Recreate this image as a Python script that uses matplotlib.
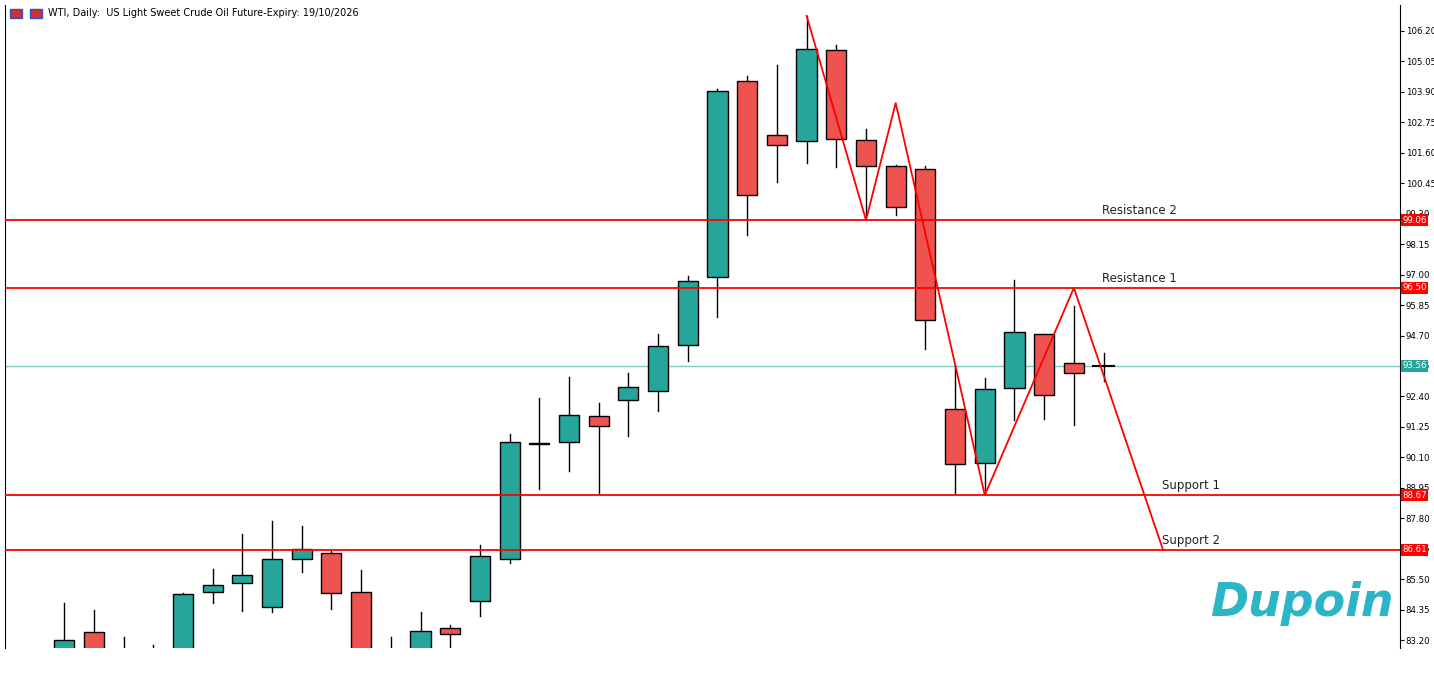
import numpy as np
import matplotlib.pyplot as plt
from matplotlib.patches import Rectangle

# ===== DONNÉES =====
opens = [82.5, 83.5, 82.5, 82.3, 82.8, 85.0, 85.35, 84.45, 86.26, 86.49, 85.0, 82.6,
         82.7, 83.66, 84.67, 86.26, 90.6, 90.68, 91.66, 92.26, 92.6, 94.34, 96.91, 104.31,
         102.27, 102.05, 105.48, 102.08, 101.1, 101.0, 91.92, 89.89, 92.72, 94.76, 93.66, 93.55]
closes = [83.2, 82.6, 82.0, 82.6, 84.95, 85.28, 85.65, 86.26, 86.64, 84.98, 82.5, 82.3,
          83.54, 83.43, 86.37, 90.68, 90.65, 91.7, 91.28, 92.76, 94.3, 96.76, 103.93, 100.0,
          101.9, 105.5, 102.12, 101.1, 99.55, 95.3, 89.85, 92.68, 94.83, 92.45, 93.28, 93.56]
highs = [84.6, 84.35, 83.3, 83.0, 84.98, 85.9, 87.2, 87.7, 87.5, 86.56, 85.85, 83.3,
         84.26, 83.77, 86.79, 90.98, 92.35, 93.13, 92.15, 93.3, 94.76, 96.95, 104.0, 104.5,
         104.9, 106.75, 105.67, 102.5, 101.14, 101.1, 93.6, 93.1, 96.8, 94.76, 95.8, 94.04]
lows = [82.0, 82.0, 81.8, 81.9, 82.5, 84.6, 84.3, 84.26, 85.77, 84.37, 82.0, 81.9,
        82.3, 82.9, 84.1, 86.1, 88.9, 89.6, 88.75, 90.9, 91.85, 93.74, 95.4, 98.5,
        100.5, 101.2, 101.06, 99.25, 99.25, 94.2, 88.75, 88.87, 91.5, 91.55, 91.32, 93.0]

niveaux = [99.06, 96.50, 88.67, 86.61]
noms_niveaux = ["Resistance 2", "Resistance 1", "Support 1", "Support 2"]
pos_noms = [34.95, 34.95, 36.97, 36.97]
prix_actuel = 93.56

zigzag_x = [25, 27, 28, 31, 34, 37]
zigzag_y = [106.77, 99.06, 103.48, 88.67, 96.50, 86.61]

ticks = [83.20, 84.35, 85.50, 86.65, 87.80, 88.95, 90.10, 91.25, 92.40, 93.55,
         94.70, 95.85, 97.00, 98.15, 99.30, 100.45, 101.60, 102.75, 103.90, 105.05, 106.20]
# ====================

VERT = "#26a69a"
ROUGE = "#ef5350"

fig = plt.figure(figsize=(14.34, 6.73), dpi=100)
ax = fig.add_axes([5 / 1434, 25 / 673, 1395 / 1434, 643 / 673])

for i, (o, c, h, l) in enumerate(zip(opens, closes, highs, lows)):
    ax.plot([i, i], [l, h], color="black", lw=1, zorder=2)
    if abs(c - o) < 0.05:
        ax.plot([i - 0.34, i + 0.34], [o, o], color="black", lw=1.5, zorder=3)
    else:
        couleur = VERT if c > o else ROUGE
        ax.add_patch(Rectangle((i - 0.34, min(o, c)), 0.68, abs(c - o),
                               facecolor=couleur, edgecolor="black", lw=1, zorder=3))

for v, nom, px in zip(niveaux, noms_niveaux, pos_noms):
    ax.axhline(v, color="red", lw=1.3, zorder=4)
    ax.text(px, v + 0.12, nom, fontsize=8.5, va="bottom", ha="left", color="#222222")
ax.axhline(prix_actuel, color="#7fcbc4", lw=1, zorder=1)

ax.plot(zigzag_x, zigzag_y, color="red", lw=1.3, zorder=5)

ax.set_xlim(-1.99, 44.98)
ax.set_ylim(82.90, 107.18)
ax.set_xticks([])
ax.yaxis.tick_right()
ax.set_yticks(ticks)
ax.set_yticklabels([f"{t:.2f}" for t in ticks], fontsize=6.2)
ax.tick_params(axis="y", length=3, pad=1)
ax.spines["top"].set_visible(False)
ax.spines["bottom"].set_visible(False)

# étiquettes de prix sur l'axe
for v in niveaux + [prix_actuel]:
    fond = VERT if v == prix_actuel else "red"
    ax.text(1.0015, v, f"{v:.2f}", transform=ax.get_yaxis_transform(), fontsize=6.2,
            color="white", va="center", ha="left", zorder=10,
            bbox=dict(facecolor=fond, edgecolor="none", pad=1))

fig.text(48 / 1434, 1 - 13 / 673, "WTI, Daily:  US Light Sweet Crude Oil Future-Expiry: 19/10/2026",
         fontsize=7, va="center")
fig.patches.append(Rectangle((10 / 1434, 1 - 18 / 673), 12 / 1434, 9 / 673,
                             transform=fig.transFigure, facecolor="#d03030", edgecolor="#3050c0"))
fig.patches.append(Rectangle((30 / 1434, 1 - 18 / 673), 12 / 1434, 9 / 673,
                             transform=fig.transFigure, facecolor="#d03030", edgecolor="#3050c0"))

fig.text(1302 / 1434, 1 - 603 / 673, "Dupoin", fontsize=33, fontstyle="italic", fontweight="bold",
         color="#2bb5c7", ha="center", va="center", family="DejaVu Sans")

fig.savefig("out.png", dpi=100)
